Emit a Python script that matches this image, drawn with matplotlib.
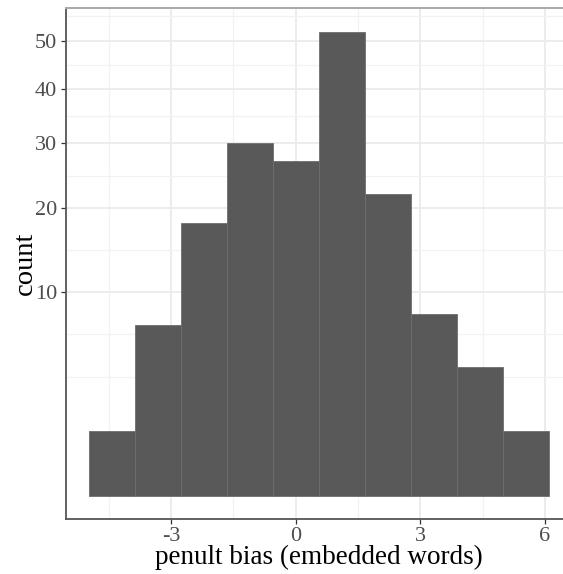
import numpy as np
import matplotlib
matplotlib.use("Agg")
import matplotlib.pyplot as plt
from matplotlib.scale import FuncScale

# Data
bin_edges = [-4.99, -3.88, -2.77, -1.66, -0.55, 0.56, 1.67, 2.78, 3.88, 4.99, 6.10]
counts = [1, 7, 18, 30, 27, 52, 22, 8, 4, 1]
y_ticks = [10, 20, 30, 40, 50]
x_ticks = [-3, 0, 3, 6]
x_label = "penult bias (embedded words)"
y_label = "count"

plt.rcParams['font.family'] = ['Liberation Serif', 'DejaVu Serif']

W, H = 563, 574
fig = plt.figure(figsize=(W / 100, H / 100), dpi=100)

# axes in pixel coords (panel extends past right edge as in reference)
left_px, right_px, top_px, bottom_px = 65.5, 572.0, 8.3, 519.0
ax = fig.add_axes([left_px / W, 1 - bottom_px / H,
                   (right_px - left_px) / W, (bottom_px - top_px) / H])


def fwd(v):
    v = np.asarray(v, dtype=float)
    return np.sign(v) * np.sqrt(np.abs(v))


def inv(v):
    v = np.asarray(v, dtype=float)
    return np.sign(v) * v ** 2


ax.set_yscale(FuncScale(ax, (fwd, inv)))

edges = np.array(bin_edges)
lefts = edges[:-1]
widths = np.diff(edges)
ax.bar(lefts, counts, width=widths, align='edge', color='#595959',
       edgecolor='#6e6e6e', linewidth=0.6, zorder=3)

# limits (5% expansion in transformed space)
xmin, xmax = edges[0], edges[-1]
xr = xmax - xmin
ax.set_xlim(xmin - 0.05 * xr, xmax + 0.05 * xr)
smax = np.sqrt(max(counts))
ax.set_ylim(inv(-0.05 * smax), inv(smax * 1.05))

ax.set_xticks(x_ticks)
ax.set_xticklabels([str(t) for t in x_ticks])
ax.set_yticks(y_ticks)
ax.set_yticklabels([str(t) for t in y_ticks])

xminor = [(x_ticks[i] + x_ticks[i + 1]) / 2 for i in range(len(x_ticks) - 1)]
xminor = [x_ticks[0] - 1.5] + xminor
for xm in xminor:
    ax.axvline(xm, color='#f2f2f2', lw=0.9, zorder=0)
for xt in x_ticks:
    ax.axvline(xt, color='#ebebeb', lw=1.3, zorder=0)

sq = np.sqrt(np.array(y_ticks, dtype=float))
step = sq[1] - sq[0]
ext = np.concatenate([[sq[0] - step], sq])
yminor = [(ext[i] + ext[i + 1]) / 2 for i in range(len(ext) - 1)] + [ext[0]]
yminor.append(sq[-1] + (sq[-1] - sq[-2]) / 2)
for ym in yminor:
    ax.axhline(ym ** 2, color='#f2f2f2', lw=0.9, zorder=0)
for yt in y_ticks:
    ax.axhline(yt, color='#ebebeb', lw=1.3, zorder=0)

ax.minorticks_off()
ax.tick_params(axis='both', direction='out', length=3.5, width=0.9,
               color='#333333', labelcolor='#4d4d4d', labelsize=16, pad=2.5)

for side in ['left', 'bottom']:
    ax.spines[side].set_color('#555555')
    ax.spines[side].set_linewidth(1.3)
ax.spines['top'].set_color('#a8a8a8')
ax.spines['top'].set_linewidth(1.4)
ax.spines['right'].set_color('#a8a8a8')
ax.spines['right'].set_linewidth(1.4)

ax.set_xlabel(x_label, fontsize=19.5, color='black')
ax.set_ylabel(y_label, fontsize=20.5, color='black')
ax.xaxis.set_label_coords((318.5 - left_px) / (right_px - left_px),
                          -(545 - bottom_px) / (bottom_px - top_px))
ax.yaxis.set_label_coords(-(65.5 - 13) / (right_px - left_px), 0.5)
ax.yaxis.label.set_va('top')

fig.savefig("out.png", dpi=100)
